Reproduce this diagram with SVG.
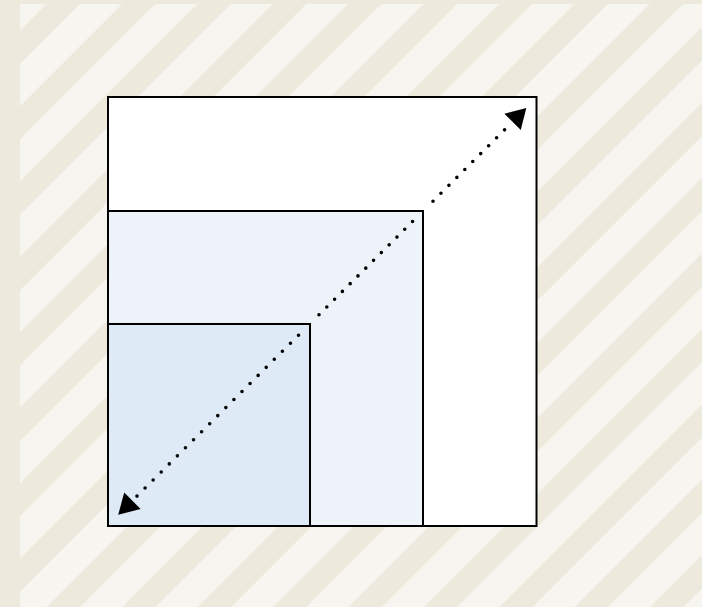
<svg xmlns="http://www.w3.org/2000/svg" width="702" height="607" viewBox="0 0 702 607">
  <style>
    .box { stroke: #000; stroke-width: 2; }
    .dots { fill: none; stroke: #000; stroke-width: 3.6; stroke-linecap: round; }
  </style>
  <defs>
    <pattern id="stripes" patternUnits="userSpaceOnUse" width="20" height="53.32" patternTransform="rotate(-45)">
      <rect width="20" height="53.32" fill="#EDEADD"/>
      <rect y="6.07" width="20" height="29.7" fill="#F7F5EF"/>
    </pattern>
    <marker id="arrowStart" markerUnits="userSpaceOnUse" orient="auto-start-reverse" markerWidth="40" markerHeight="40" refX="0" refY="0" overflow="visible">
      <path d="M6.5,-11.6 L26.5,0 L6.5,11.6 Z" fill="#000"/>
    </marker>
    <marker id="arrowEnd" markerUnits="userSpaceOnUse" orient="auto" markerWidth="40" markerHeight="40" refX="0" refY="0" overflow="visible">
      <path d="M10.5,-11.6 L30,0 L10.5,11.6 Z" fill="#000"/>
    </marker>
  </defs>

  <g id="background">
    <rect x="0" y="0" width="702" height="607" fill="#EDEADD"/>
    <rect x="20" y="4" width="682" height="603" fill="url(#stripes)"/>
  </g>

  <g id="outer">
    <rect class="box" x="108" y="97" width="428.5" height="429" fill="#FFFFFF"/>
  </g>
  <g id="middle">
    <rect class="box" x="108" y="211" width="315" height="315" fill="#EDF3F9"/>
  </g>
  <g id="inner">
    <rect class="box" x="108" y="324" width="202" height="202" fill="#DEEAF5"/>
  </g>

  <g id="connectors">
    <path class="dots" stroke-dasharray="0 11.4" d="M137,496.1 L299.1,334.6" marker-start="url(#arrowStart)"/>
    <path class="dots" stroke-dasharray="0 11.0" d="M319,314.7 L413.1,221" />
    <path class="dots" stroke-dasharray="0 11.23" d="M433,201.2 L505.1,129.3" marker-end="url(#arrowEnd)"/>
  </g>
</svg>
